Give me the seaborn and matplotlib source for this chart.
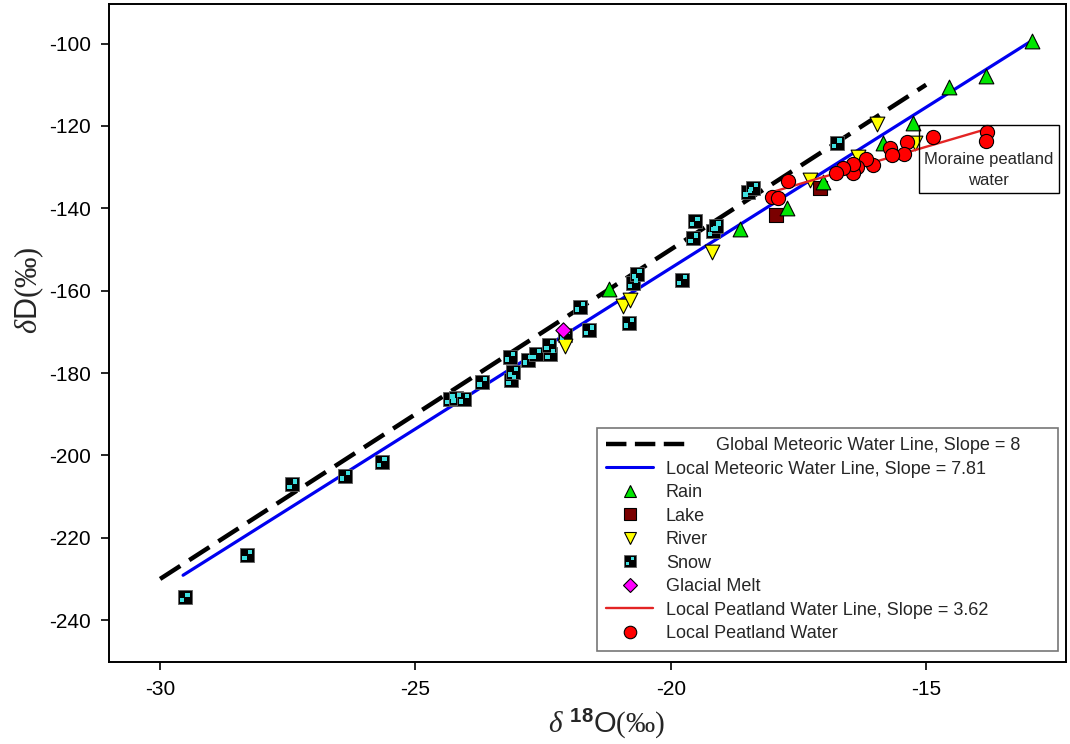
import numpy as np
import pandas as pd
import matplotlib
matplotlib.use("Agg")
import matplotlib.pyplot as plt
import seaborn as sns
from matplotlib.lines import Line2D
from matplotlib.path import Path
from matplotlib.legend_handler import HandlerLine2D, HandlerTuple

# ---------------- data ----------------
gmwl_o = [-30.0, -15.0]
gmwl_d = [-230.0, -110.0]
lmwl_o = [-29.55, -12.93]
lmwl_d = [-229.1, -99.3]
lpwl_o = [-18.0, -13.8]
lpwl_d = [-136.0, -120.7]

rain_o = [-12.93, -13.82, -14.56, -15.25, -15.84, -17.02, -17.73, -18.65, -21.21]
rain_d = [-99.3, -107.9, -110.5, -119.3, -124.2, -133.5, -140.0, -145.0, -159.7]

lake_o = [-17.08, -17.93]
lake_d = [-135.1, -141.6]

river_o = [-15.97, -15.22, -16.33, -17.27, -19.20, -20.94, -20.80, -22.08]
river_d = [-119.5, -124.2, -127.6, -133.1, -150.5, -163.7, -162.3, -173.4]

snow_o = [-29.52, -28.29, -27.41, -26.38, -25.66, -24.33, -24.20, -24.05, -23.69,
          -23.12, -23.09, -23.15, -22.80, -22.63, -22.36, -22.38, -22.08, -21.60,
          -21.78, -20.82, -20.74, -20.67, -19.78, -19.56, -19.53, -19.18, -19.12,
          -18.48, -18.39, -16.75]
snow_d = [-234.5, -224.2, -207.0, -204.9, -201.6, -186.4, -186.0, -186.2, -182.1,
          -181.7, -179.7, -176.0, -176.8, -175.4, -175.4, -173.2, -170.8, -169.6,
          -163.9, -167.8, -158.2, -155.9, -157.4, -147.3, -143.2, -145.6, -144.4,
          -136.0, -135.1, -124.2]

glacial_o = [-22.11]
glacial_d = [-169.6]

peat_o = [-13.80, -13.82, -14.87, -15.38, -15.43, -15.71, -15.66, -16.04, -16.18,
          -16.36, -16.43, -16.43, -16.62, -16.76, -17.70, -18.02, -17.90]
peat_d = [-121.4, -123.6, -122.6, -123.8, -126.8, -125.4, -127.0, -129.5, -128.1,
          -129.9, -131.5, -129.2, -130.3, -131.5, -133.3, -137.3, -137.6]

x_ticks = [-30, -25, -20, -15]
y_ticks = [-240, -220, -200, -180, -160, -140, -120, -100]

labels = [
    "Global Meteoric Water Line, Slope = 8",
    "Local Meteoric Water Line, Slope = 7.81",
    "Rain", "Lake", "River", "Snow", "Glacial Melt",
    "Local Peatland Water Line, Slope = 3.62",
    "Local Peatland Water",
]
note_text = "Moraine peatland\nwater"
note_pos = (-13.77, -128.1)

# ---------------- style ----------------
sns.set_theme(style="white")
plt.rcParams['font.family'] = ['Liberation Sans', 'DejaVu Sans']
plt.rcParams['axes.unicode_minus'] = False
plt.rcParams['mathtext.fontset'] = 'custom'
plt.rcParams['mathtext.rm'] = 'Liberation Serif'
plt.rcParams['mathtext.it'] = 'Liberation Serif:italic'
plt.rcParams['mathtext.bf'] = 'Liberation Sans:bold'
plt.rcParams['mathtext.sf'] = 'Liberation Sans'

C_RAIN = "#00E600"
C_LAKE = "#7A0000"
C_RIVER = "#FFFF00"
C_SNOW = "#3FE0E0"
C_GLAC = "#FF00FF"
C_PEAT = "#FF0000"
C_BLUE = "#0000F0"
C_RED = "#E32424"

# snow marker: black square with two cyan small squares (checker look)
_v = [(0.05, 0.05), (0.38, 0.05), (0.38, 0.38), (0.05, 0.38), (0.05, 0.05),
      (-0.38, -0.38), (-0.05, -0.38), (-0.05, -0.05), (-0.38, -0.05), (-0.38, -0.38)]
_c = [Path.MOVETO, Path.LINETO, Path.LINETO, Path.LINETO, Path.CLOSEPOLY] * 2
dots_path = Path(_v, _c)
DOT_RATIO = 0.76

fig = plt.figure(figsize=(10.7, 7.44), dpi=100)
ax = fig.add_axes([0.1019, 0.1106, 0.8944, 0.8840])

# lines
sns.lineplot(x=gmwl_o, y=gmwl_d, color="black", linewidth=3.2,
             linestyle=(0, (5.4, 2.4)), ax=ax, zorder=2)
sns.lineplot(x=lmwl_o, y=lmwl_d, color=C_BLUE, linewidth=2.3, ax=ax, zorder=2)
sns.lineplot(x=lpwl_o, y=lpwl_d, color=C_RED, linewidth=1.7, ax=ax, zorder=4)

# points
ms_tri, ms_sq, ms_circ, ms_dia = 10.6, 9.4, 10.2, 7.8
sns.scatterplot(x=snow_o, y=snow_d, marker="s", s=ms_sq**2, color="black",
                edgecolor="#606060", linewidth=0.6, ax=ax, zorder=3)
sns.scatterplot(x=snow_o, y=snow_d, marker=dots_path, s=(ms_sq * DOT_RATIO)**2,
                color=C_SNOW, edgecolor="none", linewidth=0, ax=ax, zorder=3.1)
sns.scatterplot(x=lake_o, y=lake_d, marker="s", s=ms_sq**2, color=C_LAKE,
                edgecolor="black", linewidth=0.8, ax=ax, zorder=3)
sns.scatterplot(x=river_o, y=river_d, marker="v", s=ms_tri**2, color=C_RIVER,
                edgecolor="black", linewidth=0.8, ax=ax, zorder=3)
sns.scatterplot(x=rain_o, y=rain_d, marker="^", s=ms_tri**2, color=C_RAIN,
                edgecolor="black", linewidth=0.8, ax=ax, zorder=3)
sns.scatterplot(x=glacial_o, y=glacial_d, marker="D", s=ms_dia**2, color=C_GLAC,
                edgecolor="black", linewidth=0.8, ax=ax, zorder=3.2)
sns.scatterplot(x=peat_o, y=peat_d, marker="o", s=ms_circ**2, color=C_PEAT,
                edgecolor="black", linewidth=0.8, ax=ax, zorder=5)

# annotation box (blank first line gives the tall top padding of the original)
ax.text(note_pos[0], note_pos[1], "\n" + note_text, ha="center", va="center",
        fontsize=12, linespacing=1.55, zorder=6,
        bbox=dict(boxstyle="square,pad=0.3", fc="none", ec="black", lw=1.0))

# axes
ax.set_xlim(-31.0, -12.26)
ax.set_ylim(-250.1, -90.4)
ax.set_xticks(x_ticks)
ax.set_yticks(y_ticks)
ax.tick_params(axis="both", which="major", direction="out", length=6, width=1.2,
               color="black", labelsize=15, labelcolor="black",
               bottom=True, left=True, top=False, right=False, pad=7)
for sp in ax.spines.values():
    sp.set_color("black")
    sp.set_linewidth(1.4)
ax.grid(False)

ax.set_xlabel(r"$\delta$ $^{\mathbf{18}}\mathsf{O}\mathrm{(‰)}$", fontsize=21)
ax.set_ylabel(r"$\delta\mathsf{D}\mathrm{(‰)}$", fontsize=22)
ax.xaxis.set_label_coords(0.52, -0.07)
ax.yaxis.set_label_coords(-0.066, 0.565)


# legend
class LongLineHandler(HandlerLine2D):
    def create_artists(self, legend, orig_handle, xdescent, ydescent, width,
                       height, fontsize, trans):
        return super().create_artists(legend, orig_handle, xdescent, ydescent,
                                      width * 1.75, height, fontsize, trans)


h_g = Line2D([], [], color="black", linewidth=3.2, linestyle=(0, (4.6, 1.9)))
h_l = Line2D([], [], color=C_BLUE, linewidth=2.2)
h_rain = Line2D([], [], ls="none", marker="^", ms=9, mfc=C_RAIN, mec="black", mew=0.8)
h_lake = Line2D([], [], ls="none", marker="s", ms=8, mfc=C_LAKE, mec="black", mew=0.8)
h_river = Line2D([], [], ls="none", marker="v", ms=9, mfc=C_RIVER, mec="black", mew=0.8)
h_snow = (Line2D([], [], ls="none", marker="s", ms=8, mfc="black", mec="#606060", mew=0.6),
          Line2D([], [], ls="none", marker=dots_path, ms=8 * DOT_RATIO, mfc=C_SNOW,
                 mec="none", mew=0))
h_glac = Line2D([], [], ls="none", marker="D", ms=7.2, mfc=C_GLAC, mec="black", mew=0.8)
h_pl = Line2D([], [], color=C_RED, linewidth=1.7)
h_pw = Line2D([], [], ls="none", marker="o", ms=9, mfc=C_PEAT, mec="black", mew=0.8)

handles = [h_g, h_l, h_rain, h_lake, h_river, h_snow, h_glac, h_pl, h_pw]
leg_labels = [" " * 10 + labels[0]] + labels[1:]
leg = ax.legend(handles, leg_labels, loc="upper left",
                bbox_to_anchor=(0.51, 0.0208, 0.4816, 0.3345), mode="expand",
                handler_map={h_g: LongLineHandler(), tuple: HandlerTuple(ndivide=1, pad=0)},
                frameon=True, fancybox=False, framealpha=1, edgecolor="#777777",
                fontsize=13, handlelength=2.6, handletextpad=0.7,
                labelspacing=0.36, borderpad=0.5, borderaxespad=0)
leg.get_frame().set_linewidth(1.2)
leg.set_zorder(7)

fig.savefig("out.png", dpi=100, facecolor="white")
